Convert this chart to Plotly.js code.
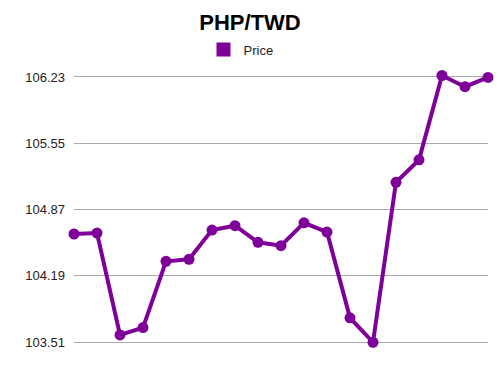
<!DOCTYPE html>
<html><head><meta charset="utf-8">
<script src="https://cdn.plot.ly/plotly-3.0.1.min.js"></script>
<style>html,body{margin:0;padding:0;background:#fff}#chart{width:500px;height:375px}</style>
</head><body><div id="chart"></div>
<script>
var pointIndex = [0,1,2,3,4,5,6,7,8,9,10,11,12,13,14,15,16,17,18];
var price = [104.62,104.63,103.585,103.66,104.34,104.36,104.66,104.705,104.535,104.50,104.735,104.64,103.76,103.51,105.15,105.38,106.245,106.13,106.225];
var yTicks = [103.51,104.19,104.87,105.55,106.23];
var yTickLabels = ['103.51','104.19','104.87','105.55','106.23'];
var seriesName = 'Price';
var color = '#7f0099';

var traces = [
  {x: pointIndex, y: price, mode: 'lines+markers', name: seriesName, showlegend: false,
   line: {color: color, width: 4}, marker: {color: color, size: 11}, cliponaxis: false, hoverinfo: 'y'},
  {x: [null], y: [null], mode: 'markers', name: seriesName, showlegend: true,
   marker: {color: color, size: 14, symbol: 'square'}}
];
var layout = {
  width: 500, height: 375,
  margin: {l: 74, r: 12, t: 60, b: 15, autoexpand: false},
  paper_bgcolor: '#fff', plot_bgcolor: '#fff',
  font: {family: 'Liberation Sans, Arial, sans-serif', color: '#222', size: 13},
  title: {text: '<b>PHP/TWD</b>', x: 0.5, xanchor: 'center', y: 1 - 22/375, yanchor: 'middle', yref: 'container',
          font: {size: 22, color: '#000', family: 'Liberation Sans, Arial, sans-serif'}},
  showlegend: true,
  legend: {orientation: 'h', x: 0.482, xanchor: 'center', xref: 'container', y: 1 - 49.5/375, yref: 'container', yanchor: 'middle',
           font: {size: 13, color: '#222'}, bgcolor: 'rgba(0,0,0,0)'},
  xaxis: {range: [0, 18], showgrid: false, zeroline: false, showticklabels: false, showline: false, ticks: '', fixedrange: true},
  yaxis: {range: [103.328, 106.404], tickmode: 'array', tickvals: yTicks, ticktext: yTickLabels,
          showgrid: true, gridcolor: '#aaaaaa', gridwidth: 1, zeroline: false, showline: false,
          ticks: '', ticklabelstandoff: 8, tickfont: {size: 13, color: '#222'}}
};
Plotly.newPlot('chart', traces, layout, {displayModeBar: false, staticPlot: true});
</script></body></html>
